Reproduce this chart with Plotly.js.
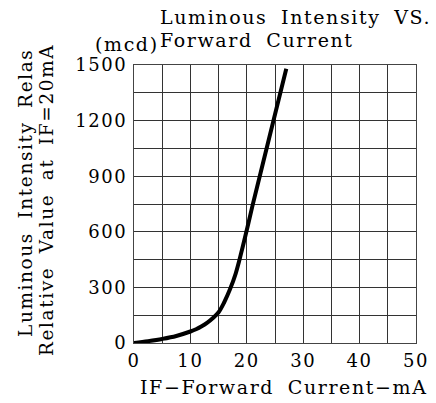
<!DOCTYPE html>
<html>
<head>
<meta charset="utf-8">
<script src="https://cdn.plot.ly/plotly-3.0.1.min.js"></script>
<style>
html,body{margin:0;padding:0;background:#fff;}
#chart{width:436px;height:403px;}
svg text{letter-spacing:1.6px;word-spacing:6px;}
</style>
</head>
<body>
<div id="chart"></div>
<script>
// Data
const currentMA = [0, 2.5, 5, 7.5, 10, 11, 12, 13, 14, 15, 16, 17, 18, 19, 20, 21, 24, 27];
const intensityMcd = [0, 10, 22, 38, 62, 74, 90, 110, 135, 166, 220, 288, 372, 485, 610, 740, 1110, 1480];
const xTickVals = [0, 10, 20, 30, 40, 50];
const xTickText = ["0", "10", "20", "30", "40", "50"];
const yTickVals = [0, 300, 600, 900, 1200, 1500];
const yTickText = ["0", "300", "600", "900", "1200", "1500"];
const titleLines = ["Luminous Intensity VS.", "Forward Current"];
const unitLabel = "(mcd)";
const yLabelLines = ["Luminous Intensity Relas", "Relative Value at IF=20mA"];
const xLabel = "IF\u2212Forward Current\u2212mA";

const FONT = "DejaVu Serif, serif";
const W = 436, H = 403;
const M = {l: 134, r: 20, t: 65, b: 60};
const PW = W - M.l - M.r, PH = H - M.t - M.b;
const px = x => (x - M.l) / PW;
const py = y => (H - M.b - y) / PH;

const trace = {
  x: currentMA, y: intensityMcd, type: 'scatter', mode: 'lines',
  line: {color: '#000', width: 4, shape: 'spline', smoothing: 1},
  hoverinfo: 'skip'
};

const axisCommon = {
  showline: true, mirror: true, linecolor: '#444', linewidth: 1,
  showgrid: true, gridcolor: '#333', gridwidth: 1,
  zeroline: false, ticks: '', fixedrange: true,
  tickfont: {family: FONT, size: 18, color: '#000'}
};

const layout = {
  width: W, height: H,
  margin: M,
  paper_bgcolor: '#fff', plot_bgcolor: '#fff',
  showlegend: false,
  xaxis: Object.assign({}, axisCommon, {
    range: [0, 50], tickmode: 'array', tickvals: xTickVals, ticktext: xTickText,
    minor: {dtick: 5, showgrid: true, gridcolor: '#333', gridwidth: 1},
    ticklabelstandoff: 1
  }),
  yaxis: Object.assign({}, axisCommon, {
    range: [0, 1500], tickmode: 'array', tickvals: yTickVals, ticktext: yTickText,
    minor: {dtick: 150, showgrid: true, gridcolor: '#333', gridwidth: 1},
    ticklabelstandoff: 2
  }),
  annotations: [
    {text: titleLines[0], xref: 'paper', yref: 'paper', x: px(158), y: py(17), xanchor: 'left', yanchor: 'middle', showarrow: false, font: {family: FONT, size: 19, color: '#000'}},
    {text: titleLines[1], xref: 'paper', yref: 'paper', x: px(158), y: py(40), xanchor: 'left', yanchor: 'middle', showarrow: false, font: {family: FONT, size: 19, color: '#000'}},
    {text: unitLabel, xref: 'paper', yref: 'paper', x: px(161), y: py(44), xanchor: 'right', yanchor: 'middle', showarrow: false, font: {family: FONT, size: 19, color: '#000'}},
    {text: yLabelLines[0], xref: 'paper', yref: 'paper', x: px(25), y: py(193), xanchor: 'center', yanchor: 'middle', textangle: -90, showarrow: false, font: {family: FONT, size: 18.5, color: '#000'}},
    {text: yLabelLines[1], xref: 'paper', yref: 'paper', x: px(46), y: py(200), xanchor: 'center', yanchor: 'middle', textangle: -90, showarrow: false, font: {family: FONT, size: 18.5, color: '#000'}},
    {text: xLabel, xref: 'paper', yref: 'paper', x: px(283), y: py(387), xanchor: 'center', yanchor: 'middle', showarrow: false, font: {family: FONT, size: 19, color: '#000'}}
  ]
};

Plotly.newPlot('chart', [trace], layout, {staticPlot: true, displayModeBar: false});
</script>
</body>
</html>
